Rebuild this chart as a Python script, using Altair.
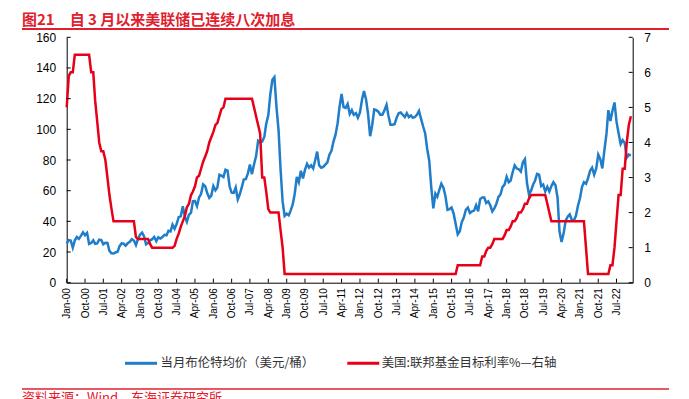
import altair as alt
import pandas as pd

# ---------------- data (monthly, Jan-2000 .. Feb-2023) ----------------
brent = [
    25.5, 27.8, 27.5, 22.8, 27.6, 29.8, 28.6, 30.5, 32.9, 31.0, 32.5, 25.3,   # 2000
    25.9, 27.6, 25.3, 25.6, 28.1, 27.8, 25.0, 26.0, 25.9, 20.7, 19.2, 19.0,   # 2001
    19.7, 20.3, 23.8, 25.7, 25.4, 24.1, 25.8, 26.7, 28.4, 27.5, 24.5, 28.5,   # 2002
    31.3, 32.7, 30.3, 25.0, 25.8, 27.6, 28.4, 29.8, 27.0, 29.6, 28.8, 29.8,   # 2003
    31.2, 30.9, 33.8, 33.4, 37.9, 35.2, 38.2, 42.7, 43.3, 49.8, 43.1, 39.7,   # 2004
    44.3, 45.6, 53.1, 53.2, 49.9, 55.6, 57.8, 64.1, 62.9, 58.5, 55.3, 56.8,   # 2005
    63.0, 60.2, 62.0, 70.4, 69.8, 68.9, 73.7, 73.1, 62.7, 58.7, 58.5, 62.0,   # 2006
    54.3, 57.8, 62.1, 67.4, 67.5, 71.3, 77.0, 70.8, 77.2, 82.4, 92.5, 91.5,   # 2007
    92.0, 95.0, 103.6, 109.1, 122.8, 132.3, 134.0, 114.6, 99.6, 74.1, 53.0, 43.5,  # 2008
    45.0, 44.0, 47.0, 51.0, 58.0, 69.0, 65.5, 73.0, 68.0, 73.5, 77.5, 75.0,   # 2009
    76.5, 74.5, 79.5, 85.5, 76.5, 75.0, 75.5, 77.0, 78.5, 83.5, 86.0, 92.0,   # 2010
    96.5, 104.0, 114.5, 123.0, 114.5, 114.0, 116.5, 110.0, 112.5, 109.5, 110.5, 107.5,  # 2011
    111.0, 119.5, 125.0, 119.5, 110.0, 95.5, 102.5, 113.0, 112.5, 111.5, 109.5, 109.5,  # 2012
    112.5, 116.0, 109.0, 103.0, 103.0, 103.3, 107.5, 110.5, 111.0, 109.5, 108.0, 110.5,  # 2013
    108.0, 109.0, 107.5, 108.0, 109.5, 112.0, 107.0, 102.0, 97.5, 87.5, 79.5, 62.5,   # 2014
    48.5, 58.0, 56.0, 60.5, 64.5, 62.0, 56.5, 47.5, 48.0, 49.0, 45.0, 38.5,   # 2015
    31.5, 33.5, 39.5, 42.5, 47.5, 49.0, 45.5, 46.5, 47.0, 50.5, 46.5, 54.5,   # 2016
    55.5, 55.5, 52.0, 53.0, 50.5, 46.5, 48.5, 51.5, 56.0, 57.5, 62.5, 64.0,   # 2017
    69.0, 65.5, 66.5, 72.0, 76.5, 74.5, 74.0, 72.5, 78.5, 80.5, 65.0, 57.5,   # 2018
    60.0, 64.0, 66.5, 71.0, 70.5, 63.0, 64.0, 59.5, 62.5, 59.5, 63.0, 65.5,   # 2019
    63.5, 55.5, 33.5, 26.6, 32.0, 40.5, 43.0, 44.5, 41.0, 40.5, 43.5, 50.0,   # 2020
    55.0, 62.5, 65.5, 64.5, 68.0, 73.0, 75.0, 70.5, 74.5, 83.5, 80.5, 74.5,   # 2021
    86.5, 97.0, 112.5, 105.5, 112.0, 117.5, 105.0, 97.5, 90.5, 93.0, 91.0, 81.5,  # 2022
    83.5, 83.0,                                                               # 2023
]

fed = [
    5.0, 5.9, 6.0, 6.0, 6.5, 6.5, 6.5, 6.5, 6.5, 6.5, 6.5, 6.5,               # 2000
    6.0, 6.0, 5.2, 4.6, 4.0, 3.75, 3.75, 3.5, 3.0, 2.5, 2.1, 1.75,            # 2001
    1.75, 1.75, 1.75, 1.75, 1.75, 1.75, 1.75, 1.75, 1.75, 1.75, 1.3, 1.25,    # 2002
    1.25, 1.25, 1.25, 1.25, 1.25, 1.1, 1.0, 1.0, 1.0, 1.0, 1.0, 1.0,          # 2003
    1.0, 1.0, 1.0, 1.0, 1.0, 1.05, 1.25, 1.4, 1.6, 1.75, 1.9, 2.15,           # 2004
    2.25, 2.5, 2.6, 2.75, 3.0, 3.05, 3.25, 3.45, 3.6, 3.75, 4.0, 4.15,        # 2005
    4.3, 4.5, 4.55, 4.75, 4.95, 5.0, 5.25, 5.25, 5.25, 5.25, 5.25, 5.25,      # 2006
    5.25, 5.25, 5.25, 5.25, 5.25, 5.25, 5.25, 5.25, 5.0, 4.75, 4.5, 4.25,     # 2007
    3.0, 3.0, 2.6, 2.1, 2.0, 2.0, 2.0, 2.0, 2.0, 1.5, 1.0, 0.25,              # 2008
    0.25, 0.25, 0.25, 0.25, 0.25, 0.25, 0.25, 0.25, 0.25, 0.25, 0.25, 0.25,   # 2009
    0.25, 0.25, 0.25, 0.25, 0.25, 0.25, 0.25, 0.25, 0.25, 0.25, 0.25, 0.25,   # 2010
    0.25, 0.25, 0.25, 0.25, 0.25, 0.25, 0.25, 0.25, 0.25, 0.25, 0.25, 0.25,   # 2011
    0.25, 0.25, 0.25, 0.25, 0.25, 0.25, 0.25, 0.25, 0.25, 0.25, 0.25, 0.25,   # 2012
    0.25, 0.25, 0.25, 0.25, 0.25, 0.25, 0.25, 0.25, 0.25, 0.25, 0.25, 0.25,   # 2013
    0.25, 0.25, 0.25, 0.25, 0.25, 0.25, 0.25, 0.25, 0.25, 0.25, 0.25, 0.25,   # 2014
    0.25, 0.25, 0.25, 0.25, 0.25, 0.25, 0.25, 0.25, 0.25, 0.25, 0.25, 0.25,   # 2015
    0.5, 0.5, 0.5, 0.5, 0.5, 0.5, 0.5, 0.5, 0.5, 0.5, 0.5, 0.5,               # 2016
    0.75, 0.75, 0.9, 1.0, 1.0, 1.1, 1.25, 1.25, 1.25, 1.25, 1.25, 1.35,       # 2017
    1.5, 1.5, 1.6, 1.75, 1.75, 1.85, 2.0, 2.0, 2.1, 2.25, 2.25, 2.4,          # 2018
    2.5, 2.5, 2.5, 2.5, 2.5, 2.5, 2.5, 2.5, 2.25, 2.0, 1.75, 1.75,            # 2019
    1.75, 1.75, 1.75, 1.75, 1.75, 1.75, 1.75, 1.75, 1.75, 1.75, 1.75, 1.75,   # 2020
    1.75, 1.75, 1.75, 1.0, 0.25, 0.25, 0.25, 0.25, 0.25, 0.25, 0.25, 0.25,    # 2021
    0.25, 0.25, 0.25, 0.5, 0.5, 1.0, 1.75, 2.5, 2.5, 3.25, 3.25, 4.0,         # 2022
    4.5, 4.75,                                                                # 2023
]

left_ticks = [0, 20, 40, 60, 80, 100, 120, 140, 160]
right_ticks = [0, 1, 2, 3, 4, 5, 6, 7]

BLUE_NAME = "当月布伦特均价（美元/桶）"
RED_NAME = "美国:联邦基金目标利率%—右轴"
TITLE = "图21\u2002\u2002自 3 月以来美联储已连续八次加息"
SOURCE = "资料来源：Wind，东海证券研究所"

# ---------------- styling ----------------
BLUE = "#1f7dc9"
RED = "#e60019"
TRED = "#e0202e"
NUM_FONT = "Liberation Sans"
CJK_FONT = "Noto Sans CJK SC"

W, H = 566, 245.4
PAD_L, PAD_T = 58.7, 29.3
TOTAL_H = 400

dates = pd.date_range("2000-01-01", periods=len(brent), freq="MS")
date_str = [d.strftime("%Y-%m-%dT00:00:00") for d in dates]
df_b = pd.DataFrame({"date": date_str, "value": brent})
df_r = pd.DataFrame({"date": date_str, "value": fed})

tick_dates = pd.date_range("2000-01-01", "2022-07-01", freq="9MS")
df_xt = pd.DataFrame({"date": [d.strftime("%Y-%m-%dT00:00:00") for d in tick_dates]})
axis_vals = [alt.DateTime(year=d.year, month=d.month, date=1) for d in tick_dates]

x_scale = alt.Scale(
    domain=[alt.DateTime(year=2000, month=1, date=1), alt.DateTime(year=2023, month=2, date=28)],
    nice=False,
)

x_axis = alt.Axis(
    values=axis_vals, format="%b-%y", labelAngle=-90, ticks=False,
    labelPadding=5, labelFontSize=10, labelFont=NUM_FONT, labelColor="black",
    domainColor="black", domainWidth=1, grid=False, title=None,
    labelFlush=False, labelOverlap=False, labelBound=False,
)
x_enc = alt.X("date:T", scale=x_scale, axis=x_axis)

blue = alt.Chart(df_b).mark_line(color=BLUE, strokeWidth=2.5).encode(
    x=x_enc,
    y=alt.Y(
        "value:Q",
        scale=alt.Scale(domain=[0, 160], nice=False),
        axis=alt.Axis(
            orient="left", values=left_ticks, ticks=False, labelPadding=11,
            labelFontSize=12, labelFont=NUM_FONT, labelColor="black",
            domainColor="black", domainWidth=1, grid=False, title=None, labelFlush=False,
        ),
    ),
)

red = alt.Chart(df_r).mark_line(color=RED, strokeWidth=2.5).encode(
    x=x_enc,
    y=alt.Y(
        "value:Q",
        scale=alt.Scale(domain=[0, 7], nice=False),
        axis=alt.Axis(
            orient="right", values=right_ticks, ticks=False, labelPadding=11,
            labelFontSize=12, labelFont=NUM_FONT, labelColor="black",
            domainColor="black", domainWidth=1, grid=False, title=None, labelFlush=False,
        ),
    ),
)

# inward tick marks
xt = alt.Chart(df_xt).mark_rule(color="black", strokeWidth=1).encode(
    x=x_enc, y=alt.value(H - 4), y2=alt.value(H)
)
lt = alt.Chart(pd.DataFrame({"v": left_ticks})).mark_rule(color="black", strokeWidth=1).encode(
    y=alt.Y("v:Q", scale=alt.Scale(domain=[0, 160], nice=False), axis=None),
    x=alt.value(0), x2=alt.value(4),
)
rt = alt.Chart(pd.DataFrame({"v": right_ticks})).mark_rule(color="black", strokeWidth=1).encode(
    y=alt.Y("v:Q", scale=alt.Scale(domain=[0, 7], nice=False), axis=None),
    x=alt.value(W - 4), x2=alt.value(W),
)

one = pd.DataFrame({"k": [0]})
LEFT_EDGE = 22 - 66.7
RIGHT_EDGE = 669 - 66.7

title = alt.Chart(pd.DataFrame({"t": [TITLE]})).mark_text(
    align="left", baseline="middle", font=CJK_FONT, fontWeight="bold", fontSize=15, color=TRED
).encode(text="t:N", x=alt.value(LEFT_EDGE), y=alt.value(19.5 - 37.3))

title_rule = alt.Chart(one).mark_rule(color=TRED, strokeWidth=2).encode(
    x=alt.value(LEFT_EDGE), x2=alt.value(RIGHT_EDGE), y=alt.value(29 - 37.3)
)

# legend
LEG_Y = 363.3 - 37.3
leg_b_line = alt.Chart(one).mark_rule(color=BLUE, strokeWidth=3).encode(
    x=alt.value(125 - 66.7), x2=alt.value(157 - 66.7), y=alt.value(LEG_Y)
)
leg_b_text = alt.Chart(pd.DataFrame({"t": [BLUE_NAME]})).mark_text(
    align="left", baseline="middle", font=CJK_FONT, fontSize=12.4, color="#333333"
).encode(text="t:N", x=alt.value(160.5 - 66.7), y=alt.value(LEG_Y))
leg_r_line = alt.Chart(one).mark_rule(color=RED, strokeWidth=3).encode(
    x=alt.value(347.3 - 66.7), x2=alt.value(379.3 - 66.7), y=alt.value(LEG_Y)
)
leg_r_text = alt.Chart(pd.DataFrame({"t": [RED_NAME]})).mark_text(
    align="left", baseline="middle", font=CJK_FONT, fontSize=12.4, color="#333333"
).encode(text="t:N", x=alt.value(381.7 - 66.7), y=alt.value(LEG_Y))

foot_rule = alt.Chart(one).mark_rule(color=TRED, strokeWidth=1.5).encode(
    x=alt.value(LEFT_EDGE), x2=alt.value(RIGHT_EDGE), y=alt.value(389 - 37.3)
)
foot_text = alt.Chart(pd.DataFrame({"t": [SOURCE]})).mark_text(
    align="left", baseline="top", font=CJK_FONT, fontSize=13, color=TRED
).encode(text="t:N", x=alt.value(LEFT_EDGE), y=alt.value(391.5 - 37.3))

chart = alt.layer(
    blue, red, xt, lt, rt, title, title_rule,
    leg_b_line, leg_b_text, leg_r_line, leg_r_text, foot_rule, foot_text,
).resolve_scale(y="independent").properties(
    width=W, height=H,
    autosize=alt.AutoSizeParams(type="none"),
    padding={"left": PAD_L, "top": PAD_T, "right": 673 - PAD_L - W, "bottom": TOTAL_H - PAD_T - H},
).configure_view(stroke=None).configure_axis(labelOverlap=False)

chart.save("out.html", embed_options={"renderer": "svg", "actions": False})
